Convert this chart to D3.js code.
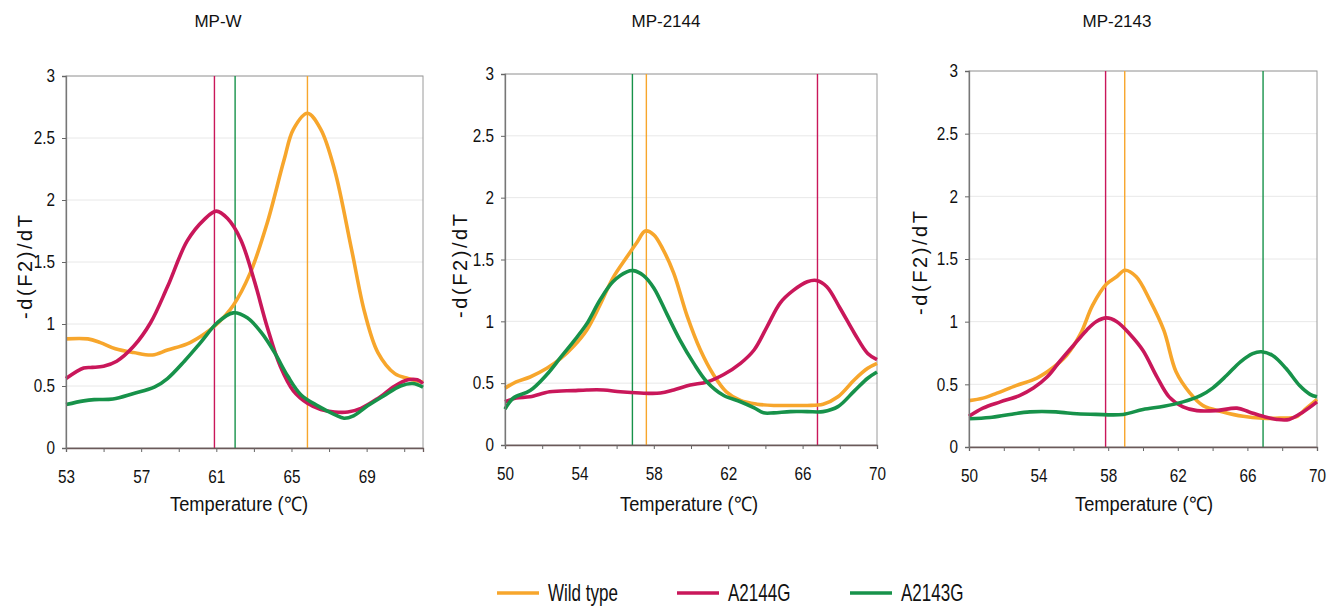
<!DOCTYPE html>
<meta charset="utf-8">
<style>
  body { margin: 0; background: #fff; }
  svg { display: block; }
  .tick text { font-family: "Liberation Sans", Arial, sans-serif; font-size: 18px; fill: #111; }
  .lbl { font-family: "Liberation Sans", Arial, sans-serif; fill: #111; }
  .leg { font-family: "Liberation Sans", Arial, sans-serif; font-size: 23px; fill: #111; }
</style>

<svg width="1328" height="607"></svg>

<script src="https://d3js.org/d3.v7.min.js"></script>
<script>
var titles = ["MP-W", "MP-2144", "MP-2143"]
var seriesNames = ["Wild type", "A2144G", "A2143G"]
var colors = ["#f7a62c", "#c9175a", "#17924a"]

var xDomains = [[53, 72], [50, 70], [50, 70]]
var xTicks = [[53, 57, 61, 65, 69], [50, 54, 58, 62, 66, 70], [50, 54, 58, 62, 66, 70]]
var yTicks = [0, 0.5, 1, 1.5, 2, 2.5, 3]

// peak markers (Tm) per panel: wild, A2144G, A2143G
var peaks = [[65.85, 60.9, 62.0], [57.6, 66.8, 56.85], [58.95, 57.85, 66.9]]

// MP-W
var wildW = [[53,0.88],[54.16,0.88],[54.83,0.85],[55.63,0.8],[56.6,0.77],[57.6,0.75],[58.4,0.79],[59.45,0.84],[60.16,0.9],[60.96,0.99],[61.9,1.15],[62.8,1.41],[63.7,1.81],[64.6,2.32],[65.1,2.57],[65.85,2.7],[66.56,2.57],[67.3,2.24],[68.2,1.6],[68.9,1.09],[69.6,0.77],[70.5,0.6],[71.2,0.56],[72,0.53]]
var a44W = [[53,0.56],[53.94,0.645],[54.4,0.65],[55,0.66],[55.7,0.7],[56.6,0.82],[57.5,1.01],[58.4,1.3],[59.45,1.67],[60.34,1.84],[61,1.91],[61.6,1.85],[62.3,1.68],[63,1.36],[63.7,0.98],[64.4,0.66],[65.1,0.46],[65.85,0.36],[66.56,0.31],[67.3,0.29],[68,0.29],[68.7,0.32],[69.6,0.4],[70.5,0.5],[71.2,0.55],[71.7,0.55],[72,0.52]]
var a43W = [[53,0.35],[53.94,0.38],[54.5,0.39],[55.5,0.395],[56.6,0.44],[57.7,0.49],[58.4,0.56],[59.3,0.7],[60.16,0.85],[61.05,1.01],[61.9,1.09],[62.65,1.05],[63.4,0.93],[64.1,0.77],[64.8,0.58],[65.5,0.43],[66.4,0.34],[67.3,0.27],[67.8,0.24],[68.3,0.26],[69.05,0.34],[69.9,0.42],[70.8,0.5],[71.45,0.52],[72,0.49]]

// MP-2144
var wild44 = [[50,0.46],[50.6,0.51],[51.35,0.55],[52.25,0.62],[53,0.7],[53.7,0.8],[54.4,0.93],[55.1,1.13],[55.8,1.35],[56.55,1.52],[57.1,1.64],[57.54,1.73],[58,1.7],[58.5,1.58],[59.07,1.39],[59.8,1.04],[60.5,0.77],[61.2,0.57],[61.9,0.43],[62.66,0.36],[63.55,0.33],[64.45,0.32],[65.35,0.32],[66.25,0.32],[67.1,0.33],[67.9,0.39],[68.8,0.53],[69.5,0.62],[70,0.66]]
var a44_44 = [[50,0.35],[50.6,0.38],[51.35,0.39],[52.4,0.43],[53.7,0.44],[54.4,0.445],[55.3,0.445],[56.2,0.43],[57.27,0.42],[58.35,0.42],[59.07,0.445],[59.96,0.485],[60.86,0.51],[61.76,0.57],[62.66,0.66],[63.4,0.77],[64.1,0.96],[64.8,1.15],[65.5,1.25],[66.25,1.32],[66.75,1.33],[67.3,1.28],[68,1.11],[68.8,0.9],[69.5,0.74],[70,0.69]]
var a43_44 = [[50,0.29],[50.45,0.38],[51.35,0.44],[52.25,0.57],[53,0.71],[53.7,0.84],[54.4,0.98],[55.1,1.17],[55.8,1.32],[56.55,1.4],[56.9,1.41],[57.45,1.37],[58,1.27],[58.7,1.06],[59.4,0.85],[60.15,0.66],[60.86,0.51],[61.76,0.4],[62.66,0.35],[63.4,0.3],[63.9,0.26],[64.45,0.26],[65.35,0.27],[66.25,0.27],[67.1,0.27],[67.9,0.31],[68.8,0.44],[69.5,0.54],[70,0.59]]

// MP-2143
var wild43 = [[50,0.37],[50.8,0.39],[51.6,0.43],[52.7,0.49],[53.9,0.55],[54.8,0.63],[55.6,0.73],[56.4,0.9],[57.1,1.13],[57.9,1.3],[58.5,1.36],[58.96,1.41],[59.6,1.36],[60.4,1.17],[61.2,0.93],[61.9,0.6],[62.7,0.43],[63.45,0.33],[64.6,0.28],[65.75,0.245],[66.9,0.23],[67.85,0.23],[68.8,0.24],[69.4,0.31],[70,0.38]]
var a44_43 = [[50,0.245],[50.8,0.31],[51.8,0.36],[52.9,0.41],[53.7,0.47],[54.5,0.56],[55.2,0.68],[56,0.81],[56.75,0.93],[57.3,1],[57.9,1.03],[58.5,1],[59.25,0.9],[60,0.77],[60.8,0.56],[61.5,0.4],[62.3,0.32],[63.1,0.29],[64.2,0.29],[65.4,0.31],[66.1,0.28],[66.9,0.245],[67.7,0.22],[68.4,0.22],[69.2,0.28],[70,0.36]]
var a43_43 = [[50,0.225],[51.2,0.235],[52.35,0.26],[53.5,0.28],[55,0.28],[56.2,0.265],[57.3,0.26],[58.86,0.26],[60,0.3],[61.2,0.325],[62.3,0.36],[63.3,0.41],[64,0.47],[64.8,0.57],[65.6,0.68],[66.3,0.745],[66.8,0.76],[67.45,0.73],[68.2,0.63],[69,0.49],[69.6,0.42],[70,0.4]]

var panelSeries = [[wildW, a44W, a43W], [wild44, a44_44, a43_44], [wild43, a44_43, a43_43]]

// plot rectangles in page pixels, plus label anchors
var boxes = [
  { x0: 66, x1: 423, y0: 76, y1: 448, titleX: 218, xlabX: 239, ylabX: 32, ylabY: 267 },
  { x0: 505, x1: 877, y0: 74, y1: 445, titleX: 666, xlabX: 689, ylabX: 467, ylabY: 266 },
  { x0: 969, x1: 1317, y0: 71, y1: 447, titleX: 1117, xlabX: 1144, ylabX: 927, ylabY: 263 }
]

var sx = 0.85 // the original type is narrow

var svg = d3.select('svg')

boxes.forEach(function (b, p) {
  var x = d3.scaleLinear().domain(xDomains[p]).range([b.x0, b.x1])
  var y = d3.scaleLinear().domain([0, 3]).range([b.y1, b.y0])
  var g = svg.append('g')

  // grid
  g.selectAll('line.grid').data(yTicks.slice(1)).enter().append('line')
    .attr('x1', b.x0).attr('x2', b.x1)
    .attr('y1', function (d) { return y(d) }).attr('y2', function (d) { return y(d) })
    .attr('stroke', '#e8e8e8').attr('stroke-width', 1)

  // border
  g.append('rect').attr('x', b.x0).attr('y', b.y0)
    .attr('width', b.x1 - b.x0).attr('height', b.y1 - b.y0)
    .attr('fill', 'none').attr('stroke', '#9a9a9a').attr('stroke-width', 1)

  // peak lines
  g.selectAll('line.peak').data(peaks[p]).enter().append('line')
    .attr('x1', function (d) { return x(d) }).attr('x2', function (d) { return x(d) })
    .attr('y1', b.y0).attr('y2', b.y1)
    .attr('stroke', function (d, i) { return colors[i] }).attr('stroke-width', 1.4)

  // curves
  var line = d3.line().x(function (d) { return x(d[0]) }).y(function (d) { return y(d[1]) })
    .curve(d3.curveCatmullRom.alpha(0.5))
  g.selectAll('path.curve').data(panelSeries[p]).enter().append('path')
    .attr('d', line)
    .attr('fill', 'none')
    .attr('stroke', function (d, i) { return colors[i] })
    .attr('stroke-width', 3.6)
    .attr('stroke-linejoin', 'round')

  // axes
  var minor = d3.range(xDomains[p][0], xDomains[p][1] + 0.01, 2)
  var xAxis = g.append('g').attr('transform', 'translate(0,' + b.y1 + ')')
    .call(d3.axisBottom(x).tickValues(minor).tickSize(4).tickPadding(18)
      .tickFormat(function (d) { return xTicks[p].indexOf(d) > -1 ? d : '' }))
  xAxis.select('.domain').attr('stroke', '#6b5a5a').attr('stroke-width', 1.3)
  xAxis.selectAll('.tick line').attr('stroke', '#666')
  xAxis.selectAll('.tick text').attr('transform', 'scale(' + sx + ',1)')

  var yAxis = g.append('g').attr('transform', 'translate(' + b.x0 + ',0)')
    .call(d3.axisLeft(y).tickValues(yTicks).tickSize(4).tickPadding(7)
      .tickFormat(function (d) { return d }))
  yAxis.select('.domain').attr('stroke', '#777').attr('stroke-width', 1.3)
  yAxis.selectAll('.tick line').attr('stroke', '#666')
  yAxis.selectAll('.tick text')
    .attr('x', -11 / sx)
    .attr('transform', 'scale(' + sx + ',1)')

  // labels
  svg.append('text').attr('class', 'lbl')
    .attr('x', b.titleX).attr('y', 27)
    .attr('text-anchor', 'middle').attr('font-size', 17)
    .text(titles[p])

  svg.append('text').attr('class', 'lbl')
    .attr('x', b.xlabX).attr('y', 511)
    .attr('text-anchor', 'middle').attr('font-size', 20)
    .attr('textLength', 138).attr('lengthAdjust', 'spacingAndGlyphs')
    .text('Temperature (℃)')

  svg.append('text').attr('class', 'lbl')
    .attr('transform', 'translate(' + b.ylabX + ',' + b.ylabY + ') rotate(-90)')
    .attr('text-anchor', 'middle').attr('font-size', 20)
    .attr('textLength', 104).attr('lengthAdjust', 'spacing')
    .text('-d(F2)/dT')
})

// legend
var legX = [497, 677, 850]
var leg = svg.append('g')
seriesNames.forEach(function (name, i) {
  leg.append('line')
    .attr('x1', legX[i]).attr('x2', legX[i] + 42)
    .attr('y1', 593).attr('y2', 593)
    .attr('stroke', colors[i]).attr('stroke-width', 3.5)
  leg.append('text').attr('class', 'leg')
    .attr('transform', 'translate(' + (legX[i] + 51) + ',601) scale(0.74,1)')
    .text(name)
})
</script>
